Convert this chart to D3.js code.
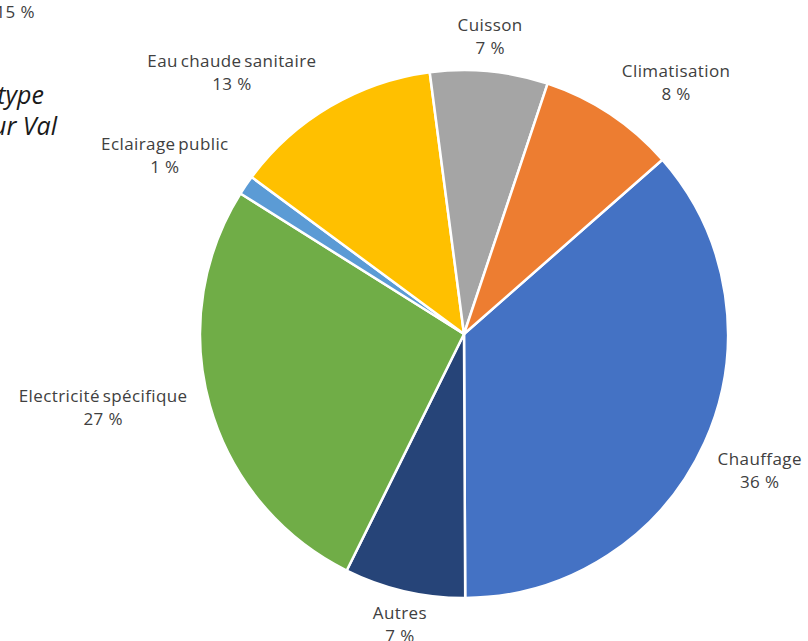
<!DOCTYPE html>
<html>
<head>
<meta charset="utf-8">
<script src="https://cdn.jsdelivr.net/npm/d3@7"></script>
<style>
  html, body { margin: 0; padding: 0; background: #fff; overflow: hidden; }
  svg { display: block; }
  text { font-family: "Open Sans", "Noto Sans", sans-serif; }
</style>
</head>
<body>
<svg id="chart"></svg>
<script>
// Energy consumption by use (share, %)
const categories = ['Chauffage', 'Autres', 'Electricité spécifique', 'Eclairage public',
                    'Eau chaude sanitaire', 'Cuisson', 'Climatisation'];
const shares = [36.4, 7.4, 26.6, 1.2, 12.8, 7.2, 8.4];
const colors = ['#4472C4', '#264478', '#70AD47', '#5B9BD5', '#FFC000', '#A5A5A5', '#ED7D31'];

// label placement: polar angle (deg, clockwise from 12 o'clock) and distance from centre
const labelAngle = [114.5, 192.5, 258.7, 301, 318.6, 5, 40];
const labelDist  = [325, 296, 368, 349, 351, 300, 330];

const width = 808, height = 641;
const cx = 464, cy = 334, radius = 264;
const labelSize = '17px';

const svg = d3.select('#chart')
    .attr('width', width)
    .attr('height', height);

const pie = d3.pie()
    .sort(null)
    .startAngle(48.7 * Math.PI / 180)
    .endAngle(48.7 * Math.PI / 180 + 2 * Math.PI);

const arc = d3.arc().innerRadius(0).outerRadius(radius);

const g = svg.append('g').attr('transform', `translate(${cx},${cy})`);

g.selectAll('path')
    .data(pie(shares))
    .enter().append('path')
    .attr('d', arc)
    .attr('fill', (d, i) => colors[i])
    .attr('stroke', '#fff')
    .attr('stroke-width', 2.5)
    .attr('stroke-linejoin', 'round');

// data labels
const labels = g.selectAll('g.label')
    .data(categories)
    .enter().append('g')
    .attr('class', 'label')
    .attr('transform', (d, i) => {
        const a = labelAngle[i] * Math.PI / 180;
        return `translate(${Math.sin(a) * labelDist[i]},${-Math.cos(a) * labelDist[i]})`;
    });

labels.append('text')
    .attr('text-anchor', 'middle')
    .attr('y', -4)
    .attr('fill', '#404040')
    .style('font-size', labelSize)
    .style('letter-spacing', '0.4px')
    .style('word-spacing', '-2px')
    .text(d => d);

labels.append('text')
    .attr('text-anchor', 'middle')
    .attr('y', 19)
    .attr('fill', '#404040')
    .style('font-size', labelSize)
    .style('letter-spacing', '0.4px')
    .text((d, i) => Math.round(shares[i]) + ' %');

// fragments of neighbouring content cut off at the left edge
svg.append('text')
    .attr('x', 35).attr('y', 18)
    .attr('text-anchor', 'end')
    .attr('fill', '#404040')
    .style('font-size', labelSize)
    .style('letter-spacing', '0.4px')
    .text('15 %');

svg.append('text')
    .attr('x', 44).attr('y', 104)
    .attr('text-anchor', 'end')
    .attr('fill', '#1a1a1a')
    .style('font-size', '25px')
    .style('font-style', 'italic')
    .text('par type');

svg.append('text')
    .attr('x', 57).attr('y', 135)
    .attr('text-anchor', 'end')
    .attr('fill', '#1a1a1a')
    .style('font-size', '25px')
    .style('font-style', 'italic')
    .text('sur Val');
</script>
</body>
</html>
